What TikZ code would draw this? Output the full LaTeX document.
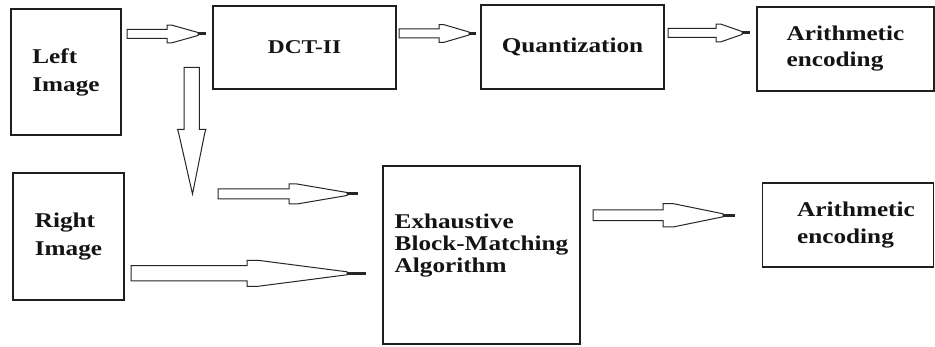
\documentclass[tikz,border=0pt]{standalone}
\usepackage{fontspec}
\setmainfont[FakeStretch=1.2]{Liberation Serif}
\usetikzlibrary{calc}

\tikzset{
  box/.style={draw=black!88, line width=1.3pt, inner sep=0pt, align=left,
    font=\bfseries\fontsize{21}{28}\selectfont, text=black!92},
  lbl/.style={inner sep=0pt, align=left,
    font=\bfseries\fontsize{21}{22}\selectfont, text=black!92},
  outline/.style={draw=black!85, line width=1pt, fill=white, line join=miter},
  stub/.style={draw=black!85, line width=3pt},
}

% Hollow block arrow from #1 to #2:
% #3 shaft half-width, #4 shaft length, #5 head half-width,
% #6 distance from start to the tapered point, #7 length of the flat shoulder
\newcommand\blockarrow[7]{%
  \draw[outline] ($(#1)+(0,-#3)$) -- ($(#1)+(#4,-#3)$) -- ($(#1)+(#4,-#5)$)
    -- ($(#1)+(#4+#7,-#5)$) -- ($(#1)+(#6,-1.5)$) -- ($(#1)+(#6,1.5)$)
    -- ($(#1)+(#4+#7,#5)$) -- ($(#1)+(#4,#5)$) -- ($(#1)+(#4,#3)$)
    -- ($(#1)+(0,#3)$) -- cycle;
  \draw[stub] ($(#1)+(#6,0)$) -- (#2);
}

\begin{document}
\begin{tikzpicture}[x=1pt, y=-1pt]
  \fill[white] (0,0) rectangle (935,347);
  \useasboundingbox (0,0) rectangle (935,347);

  % processing blocks
  \node[box, minimum width=110, minimum height=126] (left)  at (66,72)     {Left\\Image};
  \node[box, minimum width=183, minimum height=83, font=\bfseries\fontsize{19.5}{24}\selectfont]
                                                    (dct)   at (304.5,47.5) {DCT-II};
  \node[box, minimum width=183, minimum height=84]  (quant) at (572.5,47)  {Quantization};
  \node[box, minimum width=177, minimum height=84, font=\bfseries\fontsize{21}{26}\selectfont]
                                                    (arith1) at (845.5,49) {Arithmetic\\encoding};
  \node[box, minimum width=111, minimum height=127] (right) at (68.5,236.5) {Right\\Image};
  \node[box, minimum width=197, minimum height=178] (ebma)  at (481.5,255) {};
  \node[lbl] (ebma-text) at ([yshift=9]ebma.center) {Exhaustive\\Block-Matching\\Algorithm};
  \node[box, minimum width=171, minimum height=84]  (arith2) at (848,225)  {};
  \node[lbl, font=\bfseries\fontsize{21}{27}\selectfont] (arith2-text) at ([xshift=8]arith2.center) {Arithmetic\\encoding};

  % arrow end points
  \coordinate (a1s) at (127,34);    \coordinate (a1e) at (206,34);
  \coordinate (a2s) at (399,33.5);  \coordinate (a2e) at (476,33.5);
  \coordinate (a3s) at (668,33);    \coordinate (a3e) at (750,33);
  \coordinate (a4s) at (218,194);   \coordinate (a4e) at (358,194);
  \coordinate (a5s) at (131,273.3); \coordinate (a5e) at (366,273.3);
  \coordinate (a6s) at (593,215.3); \coordinate (a6e) at (735,215.3);
  \coordinate (vtop) at (191.7,67.3); \coordinate (vtip) at (192.5,194);

  % horizontal arrows
  \blockarrow{a1s}{a1e}{4.5}{40}{8.8}{71}{5}
  \blockarrow{a2s}{a2e}{4.5}{40}{8.8}{70}{5}
  \blockarrow{a3s}{a3e}{4.5}{48}{8.8}{74}{5}
  \blockarrow{a4s}{a4e}{5}{71}{10}{129}{8}
  \blockarrow{a5s}{a5e}{7.7}{116}{13}{216}{11}
  \blockarrow{a6s}{a6e}{5.3}{70}{11.7}{130}{10}

  % downward arrow below the left image
  \draw[outline] ($(vtop)+(-7.7,0)$) -- ($(vtop)+(-7.7,62)$) -- ($(vtop)+(-14.2,62)$)
    -- ($(vtop)+(-13,66)$) -- (vtip) -- ($(vtop)+(13,66)$) -- ($(vtop)+(14.2,62)$)
    -- ($(vtop)+(7.7,62)$) -- ($(vtop)+(7.7,0)$) -- cycle;
\end{tikzpicture}
\end{document}
